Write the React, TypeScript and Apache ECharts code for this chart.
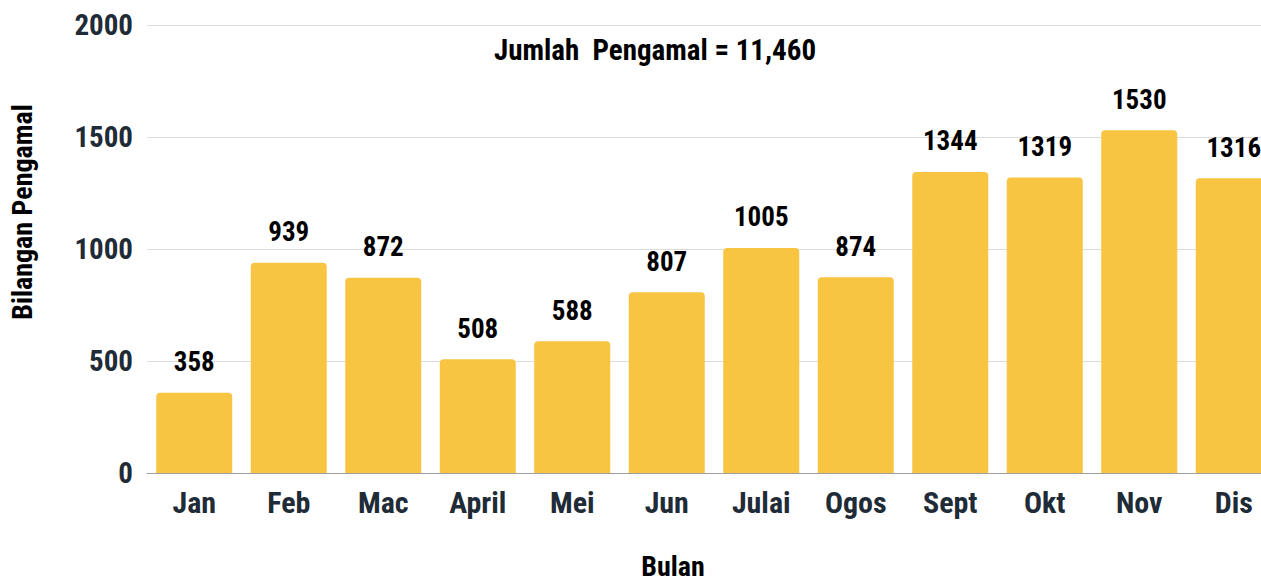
import React, { useEffect, useRef } from "react";
import * as echarts from "echarts";

const months = ["Jan", "Feb", "Mac", "April", "Mei", "Jun", "Julai", "Ogos", "Sept", "Okt", "Nov", "Dis"];
const counts = [358, 939, 872, 508, 588, 807, 1005, 874, 1344, 1319, 1530, 1316];
const yTicks = [0, 500, 1000, 1500, 2000];
const titleText = "Jumlah  Pengamal = 11,460";
const xTitle = "Bulan";
const yTitle = "Bilangan Pengamal";

const FONT = "'Roboto Condensed', 'Liberation Sans Narrow', 'DejaVu Sans Condensed', Roboto, sans-serif";

export default function App() {
  const ref = useRef<HTMLDivElement>(null);
  useEffect(() => {
    if (!ref.current) return;
    const chart = echarts.init(ref.current, undefined, { renderer: "svg" });
    chart.setOption({
      animation: false,
      grid: { left: 147, top: 25, height: 448, width: 1134 },
      title: {
        text: titleText,
        left: 650,
        top: 30,
        textAlign: "center",
        textStyle: { fontFamily: FONT, fontWeight: "bold", fontSize: 29, color: "#000" },
      },
      graphic: [
        {
          type: "text",
          x: 673,
          y: 566,
          style: {
            text: xTitle,
            fontFamily: FONT,
            fontWeight: "bold",
            fontSize: 28,
            fill: "#000",
            align: "center",
            verticalAlign: "middle",
          },
        },
        {
          type: "text",
          x: 22,
          y: 212,
          rotation: Math.PI / 2,
          style: {
            text: yTitle,
            fontFamily: FONT,
            fontWeight: "bold",
            fontSize: 28,
            fill: "#000",
            align: "center",
            verticalAlign: "middle",
          },
        },
      ],
      xAxis: {
        type: "category",
        data: months,
        axisLine: { show: true, lineStyle: { color: "#9e9e9e", width: 1 } },
        axisTick: { show: false },
        axisLabel: {
          fontFamily: FONT,
          fontWeight: "bold",
          fontSize: 30,
          color: "#1f2b36",
          margin: 14,
          interval: 0,
        },
      },
      yAxis: {
        type: "value",
        min: yTicks[0],
        max: yTicks[yTicks.length - 1],
        interval: 500,
        axisLine: { show: false },
        axisTick: { show: false },
        splitLine: { lineStyle: { color: "#dcdcdc", width: 1 } },
        axisLabel: {
          fontFamily: FONT,
          fontWeight: "bold",
          fontSize: 29,
          color: "#1f2b36",
          margin: 14,
          formatter: (v: number) => String(v),
        },
      },
      series: [
        {
          type: "bar",
          data: counts,
          barWidth: 76,
          itemStyle: { color: "#F8C542", borderRadius: [4, 4, 0, 0] },
          label: {
            show: true,
            position: "top",
            distance: 17,
            fontFamily: FONT,
            fontWeight: "bold",
            fontSize: 27,
            color: "#000",
          },
        },
      ],
    });
    return () => chart.dispose();
  }, []);
  return (
    <div style={{ position: "absolute", left: 0, top: 0, width: 1261, height: 582, overflow: "hidden" }}>
      <div ref={ref} style={{ width: 1290, height: 582 }} />
    </div>
  );
}
